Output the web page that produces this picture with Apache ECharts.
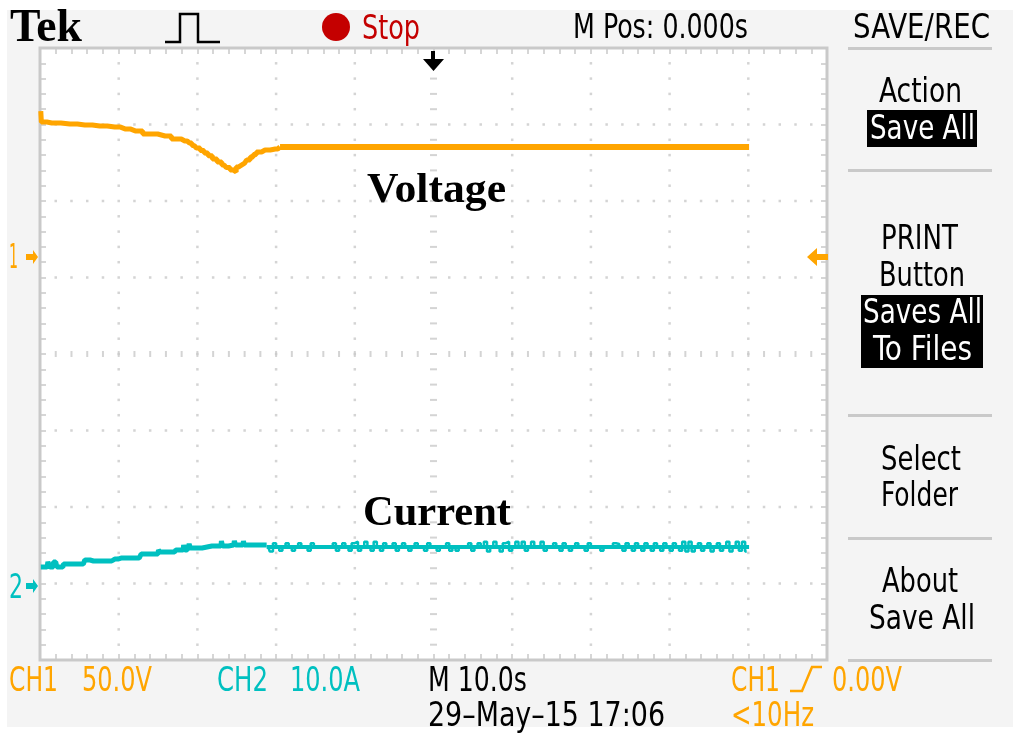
<!DOCTYPE html>
<html><head><meta charset="utf-8">
<style>html,body{margin:0;padding:0;background:#fff}#c{width:1024px;height:735px}</style>
<script src="https://cdn.jsdelivr.net/npm/echarts@6/dist/echarts.min.js"></script>
</head><body><div id="c"></div>
<script>
// Channel 1: seconds / volts
const voltageTime = [-49.9,-49.75,-48.5,-46.2,-44.3,-42.4,-40.5,-39.2,-37.9,-36,-34.1,-32.5,-31.6,-31.0,-30.4,-29.9,-29.4,-28.9,-28.4,-27.8,-27.2,-26.6,-26.1,-25.6,-25.35,-24.8,-24.4,-24,-23.5,-23.1,-22.7,-22.3,-21.4,-20.1,-19.5];
const voltageVolts = [95.4,88.2,87.6,86.9,86.3,85.6,85,83.7,82.4,80.4,79.1,77.1,75.8,74.5,72.9,71.2,69.6,68,66.1,64.1,62.1,60.1,58.5,56.9,55.6,58.8,60.1,61.4,63.4,65.4,67,68.6,69.9,70.6,71.9];
const voltageFlatTime = [-19.5,40.1];
const voltageFlatVolts = [71.9,71.9];
// Channel 2: seconds / amps, rising part
const currentRiseTime = [-49.9,-49.1,-48.9,-48.6,-48,-47.7,-47.1,-46.9,-44.5,-44.1,-43.2,-40.9,-40.5,-39.7,-37.4,-36.9,-35,-34.9,-34.6,-32.9,-32.6,-31.8,-31.7,-31.5,-31.1,-31,-30.8,-29.4,-29.3,-27,-26.9,-26.7,-25.4,-25.2,-25.1,-24.2,-24.1,-24,-21.2];
const currentRiseAmps = [2.48,2.48,3.14,2.48,3.14,2.48,2.48,2.88,2.88,3.4,3.27,3.27,3.53,3.66,3.66,4.18,4.18,4.71,4.44,4.44,4.71,4.71,5.36,4.71,4.97,5.49,4.97,4.97,5.23,5.23,5.88,5.23,5.36,5.88,5.36,5.36,5.88,5.36,5.36];
// Channel 2: steady level and the readings around it, one every 0.4 s from -21 s
const currentCoreTime = [-21.2,40.1];
const currentCoreAmps = [5.1,5.1];
const currentFlatStart = -21, currentFlatStep = 0.4;
const currentFlatAmps = [
5.1,4.5,5.6,5.1,4.6,5.1,5.6,5.1,4.6,5.1,5.6,5.1,5.1,4.6,5.6,5.1,5.1,5.1,5.1,5.1,
5.1,5.6,4.6,5.1,5.6,5.1,4.6,5.6,5.8,4.6,5.1,5.8,5.1,4.6,5.8,5.1,4.6,5.6,5.1,5.1,
5.6,4.6,5.1,5.6,5.1,4.6,5.1,5.6,5.1,5.1,4.6,5.6,5.1,5.1,4.6,5.1,5.1,5.6,4.6,5.1,
4.6,5.1,5.1,5.1,5.6,4.6,5.1,5.6,5.1,5.8,4.5,5.1,5.8,5.1,4.5,5.6,5.8,4.6,5.1,5.8,
5.1,5.8,4.6,5.1,5.8,5.1,5.1,5.8,4.6,5.1,5.1,5.6,5.1,4.6,5.6,5.1,4.6,5.1,5.6,5.1,
5.1,4.6,5.6,5.1,5.1,5.1,4.6,5.1,5.1,5.1,5.6,5.5,5.1,4.6,5.6,5.1,4.6,5.6,5.1,4.6,
5.6,5.1,4.6,5.6,5.1,4.6,5.6,5.1,4.6,5.6,5.1,4.6,5.8,4.5,5.8,4.5,5.1,5.6,4.6,5.1,
5.6,4.5,5.1,5.6,4.6,5.1,5.8,4.5,5.1,5.8,4.6,5.8,4.5
];

const ORANGE='#ffa500', CYAN='#00c0c0', RED='#c40000', GRID='#c9c9c9';
const SCOPE='"Liberation Sans Narrow","DejaVu Sans Condensed",sans-serif';
const SERIF='"Liberation Serif",serif';

const ctx=document.createElement('canvas').getContext('2d');
function label(text,left,right,cy,color,opt){
  opt=opt||{};
  const size=opt.size||33, weight=opt.weight||'normal', family=opt.family||SCOPE;
  ctx.font=weight+' '+size+'px '+family;
  const w=ctx.measureText(text).width;
  return {type:'text',x:left,y:cy+3,scaleX:(right-left)/w,z:20,
    style:{text:text,fill:color,font:weight+' '+size+'px '+family,textAlign:'left',textVerticalAlign:'middle'}};
}
const rect=(x,y,w,h,fill,z)=>({type:'rect',shape:{x,y,width:w,height:h},style:{fill},z:z||5});
const poly=(pts,fill,z)=>({type:'polygon',shape:{points:pts},style:{fill},z:z||20});
const pline=(pts,color,lw)=>({type:'polyline',shape:{points:pts},style:{stroke:color,lineWidth:lw,fill:null},z:20});

const graphics=[
  label('Tek',10,82,26,'#000',{size:46,weight:'bold',family:SERIF}),
  pline([[165,42],[180,42],[180,14],[198,14],[198,42],[220,42]],'#000',2.5),
  {type:'circle',shape:{cx:336,cy:27,r:14},style:{fill:RED},z:20},
  label('Stop',362,420,27,RED),
  label('M Pos: 0.000s',573,748,26,'#000'),
  label('SAVE/REC',853,990,26,'#000'),
  rect(848,47,144,3,GRID),rect(848,169,144,3,GRID),rect(848,414,144,3,GRID),rect(848,537,144,3,GRID),rect(848,659,144,3,GRID),
  label('Action',879,962,90,'#000'),
  rect(867,110,110,37,'#000',10),
  label('Save All',870,975,127,'#fff'),
  label('PRINT',881,958,237,'#000'),
  label('Button',879,965,274,'#000'),
  rect(861,295,122,73,'#000',10),
  label('Saves All',863,982,311,'#fff'),
  label('To Files',873,972,348,'#fff'),
  label('Select',881,961,458,'#000'),
  label('Folder',881,958,494,'#000'),
  label('About',882,958,580,'#000'),
  label('Save All',869,975,617,'#000'),
  label('CH1',9,58,679,ORANGE),
  label('50.0V',82,152,679,ORANGE),
  label('CH2',217,268,679,CYAN),
  label('10.0A',290,360,679,CYAN),
  label('M 10.0s',428,527,679,'#000'),
  label('29\u2013May\u201315 17:06',428,665,714,'#000'),
  label('CH1',731,780,679,ORANGE),
  pline([[790,691],[802,691],[812,667],[822,667]],ORANGE,2.5),
  label('0.00V',832,902,679,ORANGE),
  label('<10Hz',731,814,714,ORANGE),
  label('Voltage',367,506,188,'#000',{size:42,weight:'bold',family:SERIF}),
  label('Current',363,511,511,'#000',{size:42,weight:'bold',family:SERIF}),
  label('1',9,18,256,ORANGE),
  poly([[38,257],[33,250],[33,254],[26,254],[26,260],[33,260],[33,264]],ORANGE),
  label('2',9,23,586,CYAN),
  poly([[38,586],[33,579],[33,583],[26,583],[26,589],[33,589],[33,593]],CYAN),
  poly([[807,257],[817,248],[817,254],[828,254],[828,260],[817,260],[817,266]],ORANGE),
  poly([[423,59],[431,59],[431,51],[435,51],[435,59],[444,59],[433.5,71]],'#000'),
  {type:'rect',shape:{x:7,y:10,width:1006,height:717},style:{fill:'#f4f4f4'},z:-10,silent:true}
];

// Graticule reference points
const dots=[], colDash=[], rowDash=[];
for(let s=-40;s<=40;s+=10){
  for(let d=1;d<40;d++){ (s===0?colDash:dots).push([s,d/5]); } }
for(let r=1;r<8;r++){
  for(let s=-48;s<=48;s+=2){ if(s%10===0) continue;
    (r===4?rowDash:dots).push([s,r]); } }
for(let s=-40;s<=40;s+=10){ if(s!==0) rowDash.push([s,4]); }
const gridSeries=(data,size)=>({type:'scatter',xAxisIndex:0,yAxisIndex:0,data,symbol:'rect',symbolSize:size,
  itemStyle:{color:GRID},silent:true,animation:false,z:1});
const tickAxis=(extra)=>Object.assign({type:'value',axisLine:{show:false,onZero:false},axisLabel:{show:false},splitLine:{show:false},
  axisTick:{show:true,inside:true,length:6,lineStyle:{color:GRID,width:1.5}},
  minorTick:{show:true,splitNumber:5,length:6,lineStyle:{color:GRID,width:1.5}}},extra);
const trace=(name,yIdx,data,color,w,step)=>({name,type:'line',xAxisIndex:0,yAxisIndex:yIdx,data,step:step,
  showSymbol:false,symbol:'none',lineStyle:{color,width:w,join:'bevel',cap:'butt'},itemStyle:{color},animation:false,z:5});

const chart=echarts.init(document.getElementById('c'),null,{renderer:'canvas'});
chart.setOption({
  animation:false,backgroundColor:'#fff',
  grid:{left:40,top:48,width:787,height:612,show:true,backgroundColor:'#fff',borderColor:GRID,borderWidth:3},
  xAxis:[tickAxis({min:-50,max:50,interval:10,position:'bottom'}),tickAxis({min:-50,max:50,interval:10,position:'top'})],
  yAxis:[tickAxis({min:0,max:8,interval:1,position:'left'}),tickAxis({min:0,max:8,interval:1,position:'right'}),
    {type:'value',show:false,min:-263.4,max:136.6,scale:true},
    {type:'value',show:false,min:-9.67,max:70.33,scale:true}],
  graphic:{elements:graphics},
  series:[
    gridSeries(dots,2.5),gridSeries(colDash,[7,2]),gridSeries(rowDash,[2,6]),
    trace('Voltage',2,voltageTime.map((t,i)=>[t,voltageVolts[i]]),ORANGE,5,'middle'),
    trace('Voltage flat',2,voltageFlatTime.map((t,i)=>[t,voltageFlatVolts[i]]),ORANGE,6,false),
    trace('Current',3,currentRiseTime.map((t,i)=>[t,currentRiseAmps[i]]),CYAN,5,'middle'),
    trace('Current level',3,currentCoreTime.map((t,i)=>[t,currentCoreAmps[i]]),CYAN,4,false),
    trace('Current flat',3,currentFlatAmps.map((a,i)=>[currentFlatStart+i*currentFlatStep,a]),CYAN,2.5,'middle')
  ]
});
</script></body></html>
